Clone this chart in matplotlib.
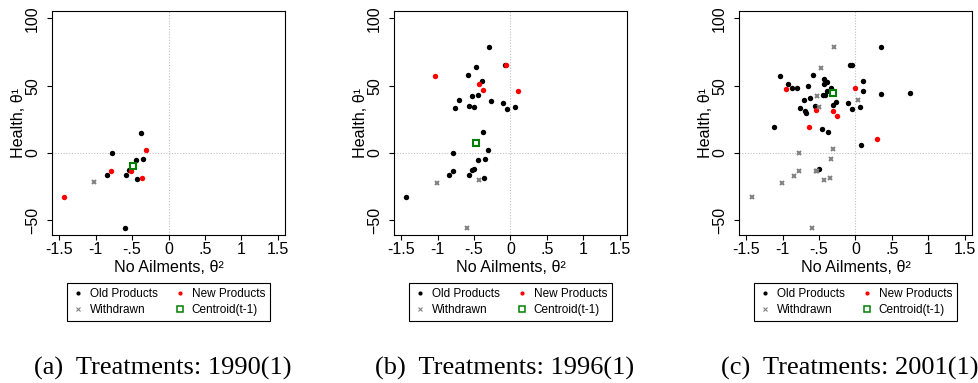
"""Three-panel product-space scatter: health vs. no-ailments characteristics."""
import matplotlib
matplotlib.use("Agg")
import matplotlib.pyplot as plt
from matplotlib.lines import Line2D

plt.rcParams["font.family"] = ["Liberation Sans", "DejaVu Sans"]

# panel (a) 1990
old_x_a = [-0.377, -0.782, -0.44, -0.35, -0.85, -0.577, -0.546, -0.436, -0.60]
old_y_a = [15.1, 0.0, -5.2, -4.2, -16.4, -16.4, -12.9, -19.6, -55.8]
new_x_a = [-0.31, -0.79, -0.518, -0.36, -1.436]
new_y_a = [2.5, -13.4, -13.4, -18.6, -32.7]
wd_x_a = [-1.018]
wd_y_a = [-21.8]
cen_a = (-0.49, -9.4)

# panel (b) 1996
old_x_b = [-0.296, -0.078, -0.477, -0.59, -0.396, -0.714, -0.528, -0.442, -0.273,
           -0.105, -0.764, -0.569, -0.505, -0.05, 0.063, -0.374, -0.31, -0.783,
           -0.346, -0.442, -0.787, -0.851, -0.573, -0.524, -0.497, -0.36, -1.438]
old_y_b = [78.6, 65.2, 63.8, 57.8, 53.1, 39.7, 42.4, 42.7, 38.5,
           37.2, 33.5, 35.0, 33.8, 32.3, 34.2, 15.2, 2.5, 0.0,
           -4.2, -5.2, -13.4, -16.6, -16.6, -12.6, -11.9, -18.6, -32.7]
new_x_b = [-0.06, -1.04, -0.43, -0.382, 0.104]
new_y_b = [65.5, 57.3, 51.1, 46.9, 46.4]
wd_x_b = [-1.015, -0.432, -0.60]
wd_y_b = [-22.0, -19.8, -56.0]
cen_b = (-0.469, 7.2)

# panel (c) 2001
old_x_c = [0.345, -0.072, -0.05, -1.04, -0.582, -0.928, -0.437, -0.391, -0.427,
           0.109, -0.877, -0.8, -0.65, -0.341, 0.109, 0.345, 0.75, -0.386,
           -0.414, -0.45, -0.71, -0.624, -0.269, -0.105, 0.068, -0.304, -0.559,
           -0.76, -0.692, -0.682, -0.045, -1.114, -0.464, -0.372, 0.073, -0.495]
old_y_c = [79.1, 65.0, 65.2, 57.3, 57.8, 51.6, 54.6, 52.8, 50.9,
           53.3, 47.9, 47.9, 49.8, 47.9, 46.4, 43.7, 44.4, 46.4,
           43.4, 42.7, 39.7, 41.2, 38.2, 37.2, 34.5, 35.5, 35.0,
           33.5, 30.8, 30.0, 32.3, 19.1, 17.9, 15.2, 6.2, -11.9]
new_x_c = [-0.959, -0.009, -0.546, -0.304, -0.255, -0.645, 0.30]
new_y_c = [47.6, 47.9, 32.0, 31.5, 27.1, 19.1, 10.0]
wd_x_c = [-0.296, -0.473, -0.523, -0.50, 0.037, -0.304, -0.777, -0.341, -0.523,
          -0.54, -0.782, -0.846, -0.35, -0.427, -1.005, -1.428, -0.596]
wd_y_c = [78.6, 63.5, 42.2, 33.8, 39.2, 2.7, -0.2, -4.2, -13.1,
          -13.1, -13.1, -16.8, -18.6, -19.8, -22.0, -32.7, -55.8]
cen_c = (-0.31, 44.4)

captions = ["(a)  Treatments: 1990(1)", "(b)  Treatments: 1996(1)",
            "(c)  Treatments: 2001(1)"]
x_ticks = [-1.5, -1, -0.5, 0, 0.5, 1, 1.5]
x_tick_labels = ["-1.5", "-1", "-.5", "0", ".5", "1", "1.5"]
y_ticks = [-50, 0, 50, 100]

GRAY = "#808080"
GREEN = "#008000"
W, H = 979, 383


def draw_panel(ax, old, new, wd, cen):
    ax.axvline(0, color="#c0c0c0", lw=0.8, ls=(0, (1, 1.5)), zorder=0)
    ax.axhline(0, color="#c0c0c0", lw=0.8, ls=(0, (1, 1.5)), zorder=0)
    ax.plot(*old, "o", color="black", ms=3.9, mew=0, ls="none")
    ax.plot(*new, "o", color="red", ms=3.9, mew=0, ls="none")
    ax.plot(*wd, "x", color=GRAY, ms=3.3, mew=1.4, ls="none")
    ax.plot([cen[0]], [cen[1]], "s", mfc="white", mec=GREEN, ms=5, mew=1.5, ls="none")

    ax.set_xlim(-1.6, 1.6)
    ax.set_ylim(-61, 105.5)
    ax.set_xticks(x_ticks, x_tick_labels)
    ax.set_yticks(y_ticks)
    ax.tick_params(axis="both", labelsize=11.5, length=3.6, width=0.8, direction="out")
    ax.tick_params(axis="x", pad=1.5)
    ax.tick_params(axis="y", pad=5)
    for lab in ax.get_yticklabels():
        lab.set_rotation(90)
        lab.set_va("center")
    for sp in ax.spines.values():
        sp.set_linewidth(0.8)

    ax.set_xlabel("No Ailments, θ²", fontsize=11.6, labelpad=2)
    ax.set_ylabel("Health, θ¹", fontsize=11.6)
    ax.yaxis.set_label_coords(-0.11, 0.5)


def main():
    fig = plt.figure(figsize=(W / 100, H / 100), dpi=100)
    lefts = [52, 394, 739]
    panels = [
        ((old_x_a, old_y_a), (new_x_a, new_y_a), (wd_x_a, wd_y_a), cen_a),
        ((old_x_b, old_y_b), (new_x_b, new_y_b), (wd_x_b, wd_y_b), cen_b),
        ((old_x_c, old_y_c), (new_x_c, new_y_c), (wd_x_c, wd_y_c), cen_c),
    ]
    handles = [
        Line2D([], [], marker="o", color="black", ms=3, mew=0, ls="none"),
        Line2D([], [], marker="x", color=GRAY, ms=2.6, mew=0.8, ls="none"),
        Line2D([], [], marker="o", color="red", ms=3, mew=0, ls="none"),
        Line2D([], [], marker="s", mfc="white", mec=GREEN, ms=4.2, mew=1.1, ls="none"),
    ]
    labels = ["Old Products", "Withdrawn", "New Products", "Centroid(t-1)"]

    for left, (old, new, wd, cen), cap in zip(lefts, panels, captions):
        ax = fig.add_axes([left / W, (H - 235) / H, 233 / W, 224 / H])
        draw_panel(ax, old, new, wd, cen)
        cx = (left + 116.5) / W
        leg = fig.legend(handles, labels, ncol=2, loc="upper center",
                         bbox_to_anchor=(cx, (H - 283) / H), fontsize=8.5,
                         frameon=True, fancybox=False, edgecolor="black",
                         framealpha=1, borderpad=0.4, handlelength=1.0,
                         handletextpad=0.5, columnspacing=1.4, labelspacing=0.35,
                         borderaxespad=0)
        leg.get_frame().set_linewidth(0.8)
        fig.text(cx - 6 / W, 8 / H, cap, ha="center", va="baseline",
                 fontsize=19, family=["Liberation Serif", "DejaVu Serif"])

    fig.savefig("out.png", dpi=100)


if __name__ == "__main__":
    main()
